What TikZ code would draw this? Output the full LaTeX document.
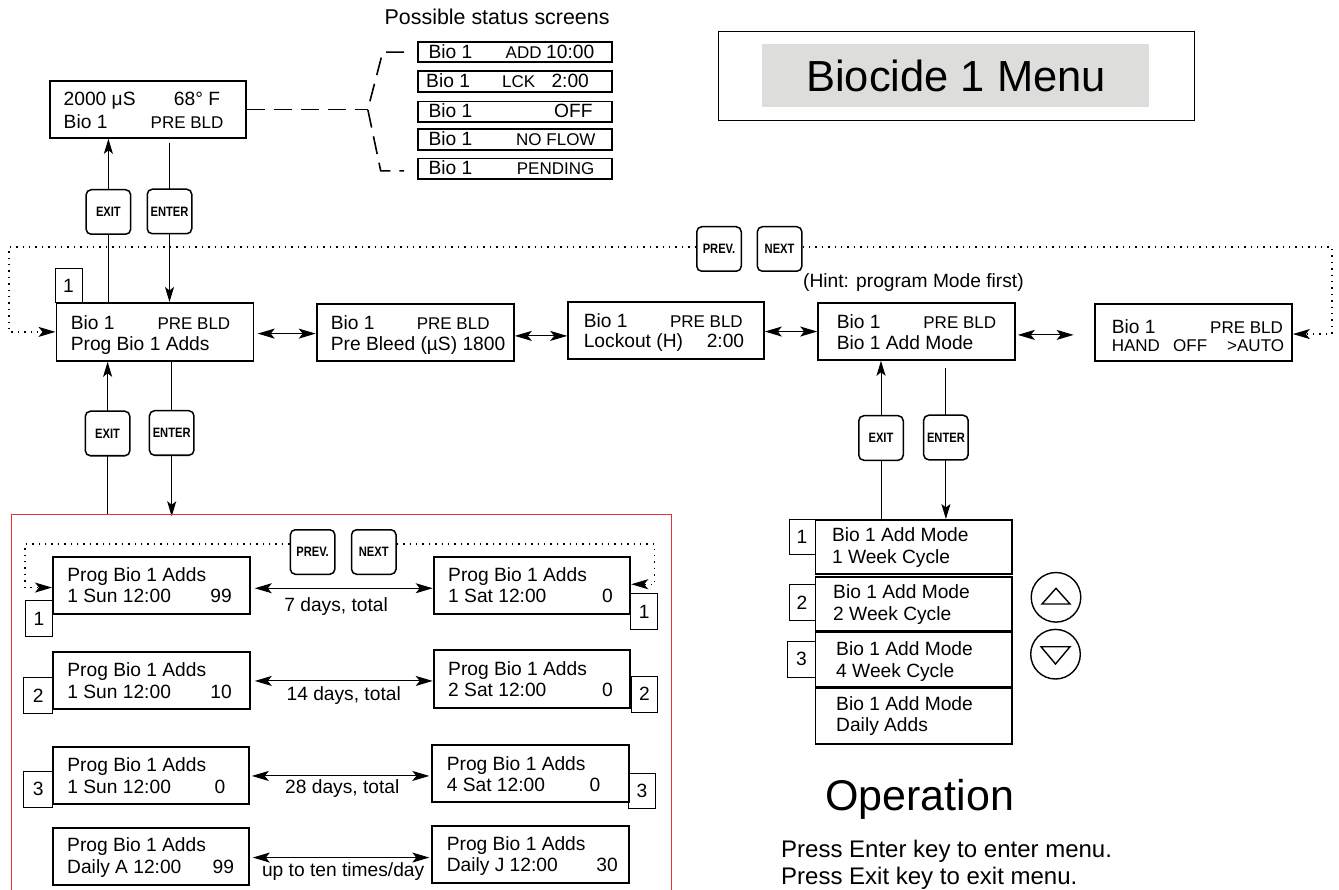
\documentclass[tikz,border=0pt]{standalone}
\usepackage{fontspec}
\setmainfont{Liberation Sans}
\newfontfamily\btnfont{Liberation Sans}[FakeStretch=0.82]
\usetikzlibrary{arrows.meta,backgrounds,calc}
\definecolor{titlegrey}{RGB}{221,221,219}
\definecolor{redline}{RGB}{230,50,50}
\tikzset{
  tipH/.tip={Stealth[length=17pt,width=10pt,inset=4pt]},
  tipV/.tip={Stealth[length=15pt,width=9pt,inset=3.5pt]},
  lcd/.style={draw, line width=1.8pt, inner sep=0pt, anchor=north west},
  nbox/.style={draw, line width=1pt, inner sep=0pt, anchor=north west, font=\fontsize{19.2}{22}\selectfont},
  btn/.style={draw, line width=1.5pt, rounded corners=5pt, minimum width=44.5pt, minimum height=44.5pt, inner sep=0pt, anchor=north west, fill=white, font=\btnfont\bfseries\fontsize{13.6}{15}\selectfont},
  mt/.style={anchor=base west, inner sep=0pt, font=\fontsize{19.2}{22}\selectfont},
  st/.style={anchor=base west, inner sep=0pt, font=\fontsize{17}{20}\selectfont},
  mte/.style={anchor=base east, inner sep=0pt, font=\fontsize{19.2}{22}\selectfont},
  conn/.style={line width=1pt},
  dbl/.style={conn, arrows={tipH-tipH}},
  varr/.style={conn, arrows={-tipV}},
  dotln/.style={line width=1.4pt, dash pattern=on 1.4pt off 5pt, arrows={-tipH}},
  dashln/.style={line width=1.6pt, dash pattern=on 18pt off 9pt},
}
\begin{document}
\begin{tikzpicture}[x=1pt,y=-1pt]
\useasboundingbox (0,0) rectangle (1339,890);
\clip (0,0) rectangle (1339,890);

% ---------- title ----------
\node[draw, line width=1.4pt, inner sep=0pt, anchor=north west, minimum width=476.4pt, minimum height=89.3pt] (tbox) at (717.6,30.7) {};
\node[fill=titlegrey, inner sep=0pt, anchor=north west, minimum width=386.3pt, minimum height=62.7pt] (tgrey) at (762.2,44) {};
\node[anchor=base west, inner sep=0pt, font=\fontsize{43.5}{50}\selectfont] (ttext) at (806,91.7) {Biocide 1 Menu};

% ---------- status display ----------
\node[lcd, minimum width=196.6pt, minimum height=57pt] (status) at (48.8,80) {};
\node[mt] (status1a) at (63.5,106) {2000 μS};
\node[mt] (status1b) at (173.7,106) {68° F};
\node[mt] (status2a) at (63.5,128.3) {Bio 1};
\node[st] (status2b) at (150.5,128.3) {PRE BLD};

\node[anchor=base west, inner sep=0pt, font=\fontsize{21.4}{25}\selectfont] (possible) at (384.5,25) {Possible status screens};
\node[lcd, minimum width=194.3pt, minimum height=20.5pt] (s1) at (416.7,41) {};
\node[lcd, minimum width=194.3pt, minimum height=20.5pt] (s2) at (416.7,70.3) {};
\node[lcd, minimum width=194.3pt, minimum height=20.5pt] (s3) at (416.7,100.7) {};
\node[lcd, minimum width=194.3pt, minimum height=20.5pt] (s4) at (416.7,128.3) {};
\node[lcd, minimum width=194.3pt, minimum height=20.5pt] (s5) at (416.7,157.7) {};
\node[mt] (s1a) at (428.3,58.3) {Bio 1};
\node[st] (s1b) at (505.5,58.3) {ADD};
\node[mt] (s1c) at (546,58.3) {10:00};
\node[mt] (s2a) at (426,87.8) {Bio 1};
\node[st] (s2b) at (502,87.8) {LCK};
\node[mt] (s2c) at (551.3,87.8) {2:00};
\node[mt] (s3a) at (428.3,118) {Bio 1};
\node[mt] (s3b) at (554,118) {OFF};
\node[mt] (s4a) at (428.3,146) {Bio 1};
\node[st] (s4b) at (516,146) {NO FLOW};
\node[mt] (s5a) at (428.3,174.8) {Bio 1};
\node[st] (s5b) at (516.7,174.8) {PENDING};

\draw[dashln] (status.east) -- ++(120.6,0) coordinate (br);
\draw[dashln] ([xshift=-12.7pt]s1.west) -- ([xshift=-34pt]s1.west) -- (br) -- ([xshift=-36pt,yshift=-2pt]s5.west) -- ([xshift=-12.7pt,yshift=-2pt]s5.west);

% ---------- main row ----------
\node[lcd, minimum width=197pt, minimum height=58pt] (prog) at (55.5,302) {};
\node[mt] (prog1a) at (70.6,329.3) {Bio 1};
\node[st] (prog1b) at (157.3,329.3) {PRE BLD};
\node[mt] (prog2) at (70.6,350.3) {Prog Bio 1 Adds};
\node[nbox, minimum width=26.9pt, minimum height=33.7pt] (num0) at (54.6,268.3) {1};

\node[lcd, minimum width=197.3pt, minimum height=57pt] (pre) at (315.7,303) {};
\node[mt] (pre1a) at (330.7,329.3) {Bio 1};
\node[st] (pre1b) at (416.6,329.3) {PRE BLD};
\node[mt] (pre2) at (330.7,350.3) {Pre Bleed (µS) 1800};

\node[lcd, minimum width=195.8pt, minimum height=57.3pt] (lock) at (567.2,301) {};
\node[mt] (lock1a) at (583.6,327.3) {Bio 1};
\node[st] (lock1b) at (669.8,327.3) {PRE BLD};
\node[mt] (lock2a) at (583.6,347.3) {Lockout (H)};
\node[mt] (lock2b) at (706.6,347.3) {2:00};

\node[lcd, minimum width=196.6pt, minimum height=57pt] (addm) at (817.2,302) {};
\node[mt] (addm1a) at (836.6,328.3) {Bio 1};
\node[st] (addm1b) at (923.2,328.3) {PRE BLD};
\node[mt] (addm2) at (836.6,350) {Bio 1 Add Mode};

\node[lcd, minimum width=196.6pt, minimum height=56.7pt] (hand) at (1094.4,303.3) {};
\node[mt] (hand1a) at (1111.6,333.3) {Bio 1};
\node[st] (hand1b) at (1210,333.3) {PRE BLD};
\node[st] (hand2a) at (1111.6,351.7) {HAND};
\node[st] (hand2b) at (1173,351.7) {OFF};
\node[st] (hand2c) at (1227,351.7) {>AUTO};

\node[mt] (hint) at (803,287.3) {(Hint: program Mode first)};

% ---------- keys ----------
\node[btn] (ex1) at (85.4,189) {EXIT};
\node[btn] (en1) at (146.5,188.5) {ENTER};
\node[btn] (ex2) at (84.6,410.5) {EXIT};
\node[btn] (en2) at (148.7,410) {ENTER};
\node[btn] (prev1) at (696,226) {PREV.};
\node[btn] (next1) at (756.6,226) {NEXT};
\node[btn] (ex3) at (858,415) {EXIT};
\node[btn] (en3) at (922.9,414.5) {ENTER};
\node[btn] (prev2) at (289.6,529) {PREV.};
\node[btn] (next2) at (350.8,529) {NEXT};

% ---------- add mode list ----------
\node[lcd, minimum width=196.2pt, minimum height=54.3pt] (w1) at (814.6,519) {};
\node[lcd, minimum width=196.2pt, minimum height=54.3pt] (w2) at (814.6,575.7) {};
\node[lcd, minimum width=196.2pt, minimum height=54.7pt] (w3) at (814.6,631.3) {};
\node[lcd, minimum width=196.2pt, minimum height=56pt] (w4) at (814.6,687.3) {};
\node[mt] (w1a) at (831.8,541.7) {Bio 1 Add Mode};
\node[mt] (w1b) at (831.8,563.3) {1 Week Cycle};
\node[mt] (w2a) at (833,598.3) {Bio 1 Add Mode};
\node[mt] (w2b) at (833,620.7) {2 Week Cycle};
\node[mt] (w3a) at (836,655) {Bio 1 Add Mode};
\node[mt] (w3b) at (836,677.3) {4 Week Cycle};
\node[mt] (w4a) at (836,710) {Bio 1 Add Mode};
\node[mt] (w4b) at (836,731.7) {Daily Adds};
\node[nbox, minimum width=26.1pt, minimum height=35.3pt] (n1) at (788.5,519) {1};
\node[nbox, minimum width=26.1pt, minimum height=35.7pt] (n2) at (788.5,584.3) {2};
\node[nbox, minimum width=27.3pt, minimum height=35.7pt] (n3) at (787.3,641) {3};

\node[circle, draw, line width=1.4pt, minimum size=49.6pt, inner sep=0pt] (upkey) at (1056,597.3) {};
\node[circle, draw, line width=1.4pt, minimum size=49.6pt, inner sep=0pt] (downkey) at (1055.5,654.2) {};
\draw[line width=1.4pt, line join=miter] (upkey.center) ++(-14,6.7) -- ++(28,0) -- ++(-14,-15.7) -- cycle;
\draw[line width=1.4pt, line join=miter] (downkey.center) ++(-14.5,-7.5) -- ++(29,0) -- ++(-14.5,17.3) -- cycle;

\node[anchor=base west, inner sep=0pt, font=\fontsize{43}{50}\selectfont] (oper) at (825,810.7) {Operation};
\node[anchor=base west, inner sep=0pt, font=\fontsize{24}{28}\selectfont] (press1) at (781,857.5) {Press Enter key to enter menu.};
\node[anchor=base west, inner sep=0pt, font=\fontsize{24}{28}\selectfont] (press2) at (781,884.5) {Press Exit key to exit menu.};

% ---------- program adds panel ----------
\node[draw=redline, line width=0.9pt, inner sep=0pt, anchor=north west, minimum width=660.2pt, minimum height=400pt] (redbox) at (11,514.3) {};

\node[lcd, minimum width=196.7pt, minimum height=56.7pt] (r1l) at (52,556) {};
\node[lcd, minimum width=196.7pt, minimum height=56.7pt] (r1r) at (432.7,556) {};
\node[lcd, minimum width=196.7pt, minimum height=56.7pt] (r2l) at (52,651) {};
\node[lcd, minimum width=196.7pt, minimum height=57.4pt] (r2r) at (432.7,649.3) {};
\node[lcd, minimum width=195.8pt, minimum height=56.7pt] (r3l) at (52,746) {};
\node[lcd, minimum width=196.7pt, minimum height=56.7pt] (r3r) at (431.3,744.3) {};
\node[lcd, minimum width=195.8pt, minimum height=57.3pt] (r4l) at (52,826.7) {};
\node[lcd, minimum width=196.7pt, minimum height=56.7pt] (r4r) at (431.3,825) {};

\node[mt] (r1la) at (67.2,581.7) {Prog Bio 1 Adds};
\node[mt] (r1lb) at (67.2,602.7) {1 Sun 12:00};
\node[mte] (r1lc) at (232,602.7) {99};
\node[mt] (r1ra) at (448,581.7) {Prog Bio 1 Adds};
\node[mt] (r1rb) at (448,602.7) {1 Sat 12:00};
\node[mte] (r1rc) at (613,602.7) {0};
\node[mt] (r2la) at (67.2,676.7) {Prog Bio 1 Adds};
\node[mt] (r2lb) at (67.2,698.3) {1 Sun 12:00};
\node[mte] (r2lc) at (232,698.3) {10};
\node[mt] (r2ra) at (448,675) {Prog Bio 1 Adds};
\node[mt] (r2rb) at (448,696.7) {2 Sat 12:00};
\node[mte] (r2rc) at (613,696.7) {0};
\node[mt] (r3la) at (67.2,771.7) {Prog Bio 1 Adds};
\node[mt] (r3lb) at (67.2,793.3) {1 Sun 12:00};
\node[mte] (r3lc) at (225.5,793.3) {0};
\node[mt] (r3ra) at (446.6,770) {Prog Bio 1 Adds};
\node[mt] (r3rb) at (446.6,791.7) {4 Sat 12:00};
\node[mte] (r3rc) at (600.5,791.7) {0};
\node[mt] (r4la) at (67,851.7) {Prog Bio 1 Adds};
\node[mt] (r4lb) at (67,873.3) {Daily A 12:00};
\node[mte] (r4lc) at (234.3,873.3) {99};
\node[mt] (r4ra) at (446.6,850) {Prog Bio 1 Adds};
\node[mt] (r4rb) at (446.6,871.7) {Daily J 12:00};
\node[mte] (r4rc) at (618,871.7) {30};

\node[mt] (lab1) at (284.2,611.7) {7 days, total};
\node[mt] (lab2) at (286.4,700) {14 days, total};
\node[mt] (lab3) at (285,793.3) {28 days, total};
\node[mt] (lab4) at (261.8,876.7) {up to ten times/day};

\node[nbox, minimum width=27pt, minimum height=36pt] (b1l) at (25,600) {1};
\node[nbox, minimum width=26.8pt, minimum height=36pt] (b1r) at (630.3,593.3) {1};
\node[nbox, minimum width=28.7pt, minimum height=36pt] (b2l) at (23.3,677.3) {2};
\node[nbox, minimum width=26.3pt, minimum height=36pt] (b2r) at (630.7,675.7) {2};
\node[nbox, minimum width=28.7pt, minimum height=35.7pt] (b3l) at (23.3,771) {3};
\node[nbox, minimum width=27pt, minimum height=35.6pt] (b3r) at (628,772.7) {3};

% ---------- connectors ----------
\begin{pgfonlayer}{background}
\fill[white] (0,0) rectangle (1339,890);
\draw[varr] (prog.north -| ex1) -- (status.south -| ex1);
\draw[varr, shorten <=4.7pt] (status.south -| en1) -- (prog.north -| en1);
\draw[varr] (redbox.north -| ex2) -- (prog.south -| ex2);
\draw[varr] (prog.south -| en2) -- ([yshift=-2pt]redbox.north -| en2);
\draw[varr] (w1.north -| ex3) -- (addm.south -| ex3);
\draw[varr, shorten <=7pt] (addm.south -| en3) -- (w1.north -| en3);
\end{pgfonlayer}

\draw[dbl] ($(prog.east)+(3.4,1.7)$) coordinate (a1) -- (a1 -| pre.west);
\draw[dbl] ($(pre.east)+(0,3.5)$) coordinate (a2) -- (a2 -| lock.west);
\draw[dbl] ($(lock.east)+(0,1)$) coordinate (a3) -- (a3 -| addm.west);
\draw[dbl, shorten >=20.8pt] ($(addm.east)+(2.2,3.5)$) coordinate (a4) -- (a4 -| hand.west);

\draw[dbl] ($(r1l.east)+(4.3,3)$) coordinate (c1) -- (c1 -| r1r.west);
\draw[dbl] ($(r2l.east)+(4.3,0.7)$) coordinate (c2) -- (c2 -| r2r.west);
\draw[dbl, shorten >=2pt] ($(r3l.east)+(2.2,0.7)$) coordinate (c3) -- (c3 -| r3r.west);
\draw[dbl, shorten >=2pt] ($(r4l.east)+(3.2,1.3)$) coordinate (c4) -- (c4 -| r4r.west);

\draw[dotln] ([yshift=2pt]prev1.west) -| ([xshift=-46.5pt]prog.west) -- (prog.west);
\draw[dotln] ([yshift=2pt]next1.east) -| ([xshift=39pt,yshift=-1.5pt]hand.east) -- ([yshift=-1.5pt]hand.east);
\draw[dotln] ([yshift=8pt]prev2.west) -| ([xshift=-27pt,yshift=-2.3pt]r1l.west) -- ([yshift=-2.3pt]r1l.west);
\draw[dotln] ([yshift=8pt]next2.east) -| ([xshift=23.5pt,yshift=1pt]r1r.east) -- ([yshift=1pt]r1r.east);

\end{tikzpicture}
\end{document}
